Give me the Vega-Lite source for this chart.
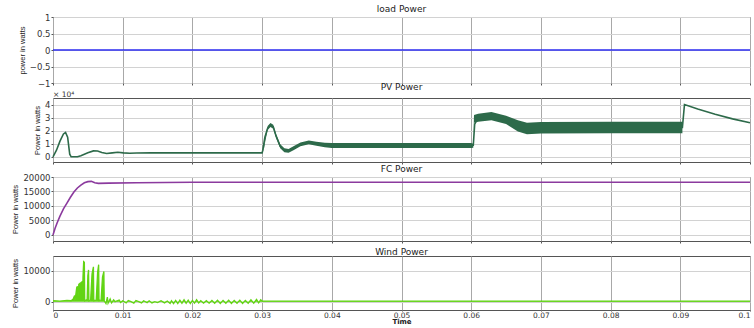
{
  "$schema": "https://vega.github.io/schema/vega-lite/v6.json",
  "padding": {"left": 11, "top": 4, "right": 0, "bottom": 0},
  "background": "white",
  "spacing": 15,
  "bounds": "flush",
  "config": {
    "view": {"stroke": "#555", "strokeWidth": 1},
    "axis": {"labelFont": "DejaVu Sans", "labelFontSize": 8.5, "labelColor": "#333", "labelOverlap": false, "titleFont": "Liberation Sans", "titleFontWeight": "normal", "titleFontSize": 7.5, "titleColor": "#222", "domain": false, "tickColor": "#555", "tickSize": 2, "labelPadding": 1, "titlePadding": 3, "gridColor": "#d2d2d2", "gridOpacity": 1},
    "axisX": {"gridColor": "#a8a8a8"},
    "title": {"fontSize": 9, "fontWeight": "normal", "font": "DejaVu Sans", "offset": -1, "color": "#222"}
  },
  "datasets": {
    "load": [{"t": 0, "p": 0}, {"t": 0.1, "p": 0}],
    "pv": [
      {"t": 0, "p": 0}, {"t": 0.0005, "p": 5000}, {"t": 0.001, "p": 12000}, {"t": 0.0015, "p": 17500}, {"t": 0.0018, "p": 18600}, {"t": 0.0021, "p": 15000}, {"t": 0.0024, "p": 2000}, {"t": 0.0026, "p": 0}, {"t": 0.0035, "p": 0}, {"t": 0.004, "p": 800}, {"t": 0.005, "p": 3000}, {"t": 0.0058, "p": 4500}, {"t": 0.0064, "p": 4400}, {"t": 0.007, "p": 3200}, {"t": 0.0077, "p": 2500}, {"t": 0.0085, "p": 3000}, {"t": 0.0093, "p": 3500}, {"t": 0.0101, "p": 3000}, {"t": 0.011, "p": 2700}, {"t": 0.012, "p": 2900}, {"t": 0.014, "p": 3000}, {"t": 0.02, "p": 3000}, {"t": 0.03, "p": 3000},
      {"t": 0.0301, "p": 5000}, {"t": 0.0304, "p": 15000}, {"t": 0.0308, "p": 22000}, {"t": 0.0312, "p": 24300}, {"t": 0.0316, "p": 23000}, {"t": 0.032, "p": 16000}, {"t": 0.0326, "p": 8000}, {"t": 0.0332, "p": 5000}, {"t": 0.0338, "p": 4500}, {"t": 0.0345, "p": 6500}, {"t": 0.0355, "p": 9500}, {"t": 0.0367, "p": 11000}, {"t": 0.0378, "p": 10000}, {"t": 0.039, "p": 9000}, {"t": 0.04, "p": 8700}, {"t": 0.05, "p": 8800}, {"t": 0.0603, "p": 8800},
      {"t": 0.0605, "p": 25000}, {"t": 0.061, "p": 30000}, {"t": 0.0629, "p": 31000}, {"t": 0.065, "p": 28000}, {"t": 0.0667, "p": 23600}, {"t": 0.068, "p": 21700}, {"t": 0.07, "p": 22200}, {"t": 0.08, "p": 22400}, {"t": 0.0903, "p": 22400},
      {"t": 0.0906, "p": 40000}, {"t": 0.0925, "p": 36500}, {"t": 0.095, "p": 32500}, {"t": 0.0975, "p": 29000}, {"t": 0.1, "p": 26000}
    ],
    "pvband": [
      {"t": 0.0302, "lo": 4000, "hi": 7000}, {"t": 0.0305, "lo": 13000, "hi": 17000}, {"t": 0.0308, "lo": 20500, "hi": 23500}, {"t": 0.0312, "lo": 22800, "hi": 25800}, {"t": 0.0316, "lo": 21500, "hi": 24500}, {"t": 0.032, "lo": 14500, "hi": 17500}, {"t": 0.0326, "lo": 6500, "hi": 9500}, {"t": 0.0332, "lo": 3500, "hi": 6500}, {"t": 0.0338, "lo": 3000, "hi": 6000}, {"t": 0.0345, "lo": 5000, "hi": 8000}, {"t": 0.0355, "lo": 8000, "hi": 11000}, {"t": 0.0367, "lo": 9500, "hi": 12500}, {"t": 0.0378, "lo": 8500, "hi": 11500}, {"t": 0.039, "lo": 7300, "hi": 10700}, {"t": 0.04, "lo": 6800, "hi": 10500}, {"t": 0.06, "lo": 6800, "hi": 10500}, {"t": 0.0603, "lo": 7000, "hi": 10000},
      {"t": 0.0604, "lo": 26000, "hi": 32000}, {"t": 0.061, "lo": 26800, "hi": 33000}, {"t": 0.0629, "lo": 28000, "hi": 34300}, {"t": 0.065, "lo": 25000, "hi": 31500}, {"t": 0.0667, "lo": 19300, "hi": 28000}, {"t": 0.068, "lo": 17300, "hi": 26000}, {"t": 0.07, "lo": 17800, "hi": 26600}, {"t": 0.08, "lo": 18000, "hi": 26800}, {"t": 0.0903, "lo": 18000, "hi": 26800}
    ],
    "fc": [
      {"t": 0, "p": 0}, {"t": 0.0003, "p": 2300}, {"t": 0.0006, "p": 4200}, {"t": 0.001, "p": 6500}, {"t": 0.0015, "p": 9000}, {"t": 0.002, "p": 11000}, {"t": 0.0025, "p": 13000}, {"t": 0.003, "p": 14800}, {"t": 0.0035, "p": 16200}, {"t": 0.004, "p": 17200}, {"t": 0.0045, "p": 18000}, {"t": 0.005, "p": 18400}, {"t": 0.0055, "p": 18500}, {"t": 0.006, "p": 18000}, {"t": 0.0065, "p": 17800}, {"t": 0.008, "p": 17900}, {"t": 0.012, "p": 18000}, {"t": 0.02, "p": 18200}, {"t": 0.1, "p": 18200}
    ],
    "wind": [
      {"t": 0, "p": 300}, {"t": 0.001, "p": 200}, {"t": 0.002, "p": 400}, {"t": 0.0026, "p": 300}, {"t": 0.0029, "p": 900}, {"t": 0.0031, "p": 2000}, {"t": 0.00315, "p": 300}, {"t": 0.0033, "p": 2800}, {"t": 0.0034, "p": 4500}, {"t": 0.0035, "p": 5000}, {"t": 0.00355, "p": 400}, {"t": 0.0037, "p": 5600}, {"t": 0.0039, "p": 6000}, {"t": 0.00395, "p": 400}, {"t": 0.0041, "p": 6200}, {"t": 0.0042, "p": 6600}, {"t": 0.00425, "p": 500}, {"t": 0.0043, "p": 8000}, {"t": 0.0044, "p": 13000}, {"t": 0.0045, "p": 12800}, {"t": 0.00455, "p": 300},
      {"t": 0.0048, "p": 600}, {"t": 0.0049, "p": 700}, {"t": 0.005, "p": 8500}, {"t": 0.0051, "p": 10300}, {"t": 0.00515, "p": 300}, {"t": 0.0054, "p": 500}, {"t": 0.0056, "p": 9000}, {"t": 0.0058, "p": 11300}, {"t": 0.00585, "p": 300}, {"t": 0.0062, "p": 500}, {"t": 0.0064, "p": 9500}, {"t": 0.00655, "p": 12000}, {"t": 0.0066, "p": 300}, {"t": 0.0069, "p": 500}, {"t": 0.0071, "p": 8000}, {"t": 0.0073, "p": 9800}, {"t": 0.00735, "p": 300},
      {"t": 0.0076, "p": -600}, {"t": 0.0078, "p": 1500}, {"t": 0.0079, "p": -500}, {"t": 0.0082, "p": 900}, {"t": 0.0084, "p": -400}, {"t": 0.0087, "p": 600}, {"t": 0.0089, "p": 0}, {"t": 0.0095, "p": 500}, {"t": 0.0097, "p": -300}, {"t": 0.01, "p": 300}, {"t": 0.0105, "p": -400}, {"t": 0.0108, "p": 400}, {"t": 0.0112, "p": 0}, {"t": 0.0116, "p": -500}, {"t": 0.0119, "p": 400}, {"t": 0.0123, "p": 0}, {"t": 0.0127, "p": -400}, {"t": 0.013, "p": 300}, {"t": 0.0135, "p": -300}, {"t": 0.0138, "p": 300}, {"t": 0.0142, "p": -400}, {"t": 0.0146, "p": 0}, {"t": 0.015, "p": -300}, {"t": 0.0155, "p": 300}, {"t": 0.016, "p": -400}, {"t": 0.0164, "p": 200}, {"t": 0.0168, "p": -600}, {"t": 0.017, "p": 300}, {"t": 0.0173, "p": -600}, {"t": 0.0176, "p": 400}, {"t": 0.0179, "p": -600}, {"t": 0.0182, "p": 500}, {"t": 0.0185, "p": -500}, {"t": 0.0188, "p": 600}, {"t": 0.0191, "p": -500}, {"t": 0.0194, "p": 500}, {"t": 0.0197, "p": -600}, {"t": 0.02, "p": 400}, {"t": 0.0203, "p": -500}, {"t": 0.0206, "p": 600}, {"t": 0.0209, "p": -400}, {"t": 0.0212, "p": 300}, {"t": 0.0216, "p": -500}, {"t": 0.022, "p": 300}, {"t": 0.0224, "p": -500}, {"t": 0.0228, "p": 400}, {"t": 0.0232, "p": -500}, {"t": 0.0236, "p": 500}, {"t": 0.024, "p": -600}, {"t": 0.0244, "p": 400}, {"t": 0.0248, "p": -500}, {"t": 0.0252, "p": 500}, {"t": 0.0256, "p": -600}, {"t": 0.026, "p": 400}, {"t": 0.0264, "p": -500}, {"t": 0.0268, "p": 500}, {"t": 0.0272, "p": -600}, {"t": 0.0276, "p": 400}, {"t": 0.028, "p": -500}, {"t": 0.0284, "p": 600}, {"t": 0.0288, "p": -500}, {"t": 0.0292, "p": 700}, {"t": 0.0295, "p": -400}, {"t": 0.0298, "p": 600}, {"t": 0.03, "p": 200}, {"t": 0.1, "p": 200}
    ]
  },
  "vconcat": [
    {
      "title": "load Power",
      "width": 697, "height": 66,
      "data": {"name": "load"},
      "mark": {"type": "line", "color": "#2b2bf0", "strokeWidth": 1.5},
      "encoding": {
        "x": {"field": "t", "type": "quantitative", "scale": {"domain": [0, 0.1], "nice": false, "zero": false}, "axis": {"values": [0, 0.01, 0.02, 0.03, 0.04, 0.05, 0.06, 0.07, 0.08, 0.09, 0.1], "labels": false, "title": null}},
        "y": {"field": "p", "type": "quantitative", "scale": {"domain": [-1, 1], "nice": false}, "axis": {"values": [-1, -0.5, 0, 0.5, 1], "title": "power in watts", "format": "~g"}}
      }
    },
    {
      "title": "PV Power",
      "width": 697, "height": 64,
      "layer": [
        {
          "data": {"name": "pv"},
          "mark": {"type": "line", "color": "#2d6a4a", "strokeWidth": 1.6},
          "encoding": {
            "x": {"field": "t", "type": "quantitative", "scale": {"domain": [0, 0.1], "nice": false, "zero": false}, "axis": {"values": [0, 0.01, 0.02, 0.03, 0.04, 0.05, 0.06, 0.07, 0.08, 0.09, 0.1], "labels": false, "title": null}},
            "y": {"field": "p", "type": "quantitative", "scale": {"domain": [-4000, 45000], "nice": false}, "axis": {"values": [0, 10000, 20000, 30000, 40000], "title": "Power in watts", "labelOverlap": false, "labelExpr": "format(datum.value / 10000, 'd')"}}
          }
        },
        {
          "data": {"name": "pvband"},
          "mark": {"type": "area", "color": "#2d6a4a", "opacity": 1},
          "encoding": {
            "x": {"field": "t", "type": "quantitative", "axis": {"values": [0, 0.01, 0.02, 0.03, 0.04, 0.05, 0.06, 0.07, 0.08, 0.09, 0.1], "labels": false, "title": null}},
            "y": {"field": "lo", "type": "quantitative", "axis": {"values": [0, 10000, 20000, 30000, 40000], "title": "Power in watts", "labelOverlap": false, "labelExpr": "format(datum.value / 10000, 'd')"}},
            "y2": {"field": "hi"}
          }
        },
        {
          "data": {"values": [{"label": "× 10⁴"}]},
          "mark": {"type": "text", "align": "left", "baseline": "bottom", "dy": 1, "dx": 0, "fontSize": 7.5, "font": "DejaVu Sans", "color": "#333"},
          "encoding": {
            "x": {"datum": 0, "type": "quantitative", "axis": {"values": [0, 0.01, 0.02, 0.03, 0.04, 0.05, 0.06, 0.07, 0.08, 0.09, 0.1], "labels": false, "title": null}},
            "y": {"datum": 45000, "type": "quantitative", "axis": {"values": [0, 10000, 20000, 30000, 40000], "title": "Power in watts", "labelOverlap": false, "labelExpr": "format(datum.value / 10000, 'd')"}},
            "text": {"field": "label"}
          }
        }
      ]
    },
    {
      "title": "FC Power",
      "width": 697, "height": 64,
      "data": {"name": "fc"},
      "mark": {"type": "line", "color": "#8b3a9e", "strokeWidth": 1.6},
      "encoding": {
        "x": {"field": "t", "type": "quantitative", "scale": {"domain": [0, 0.1], "nice": false, "zero": false}, "axis": {"values": [0, 0.01, 0.02, 0.03, 0.04, 0.05, 0.06, 0.07, 0.08, 0.09, 0.1], "labels": false, "title": null}},
        "y": {"field": "p", "type": "quantitative", "scale": {"domain": [-2100, 20000], "nice": false}, "axis": {"values": [0, 5000, 10000, 15000, 20000], "title": "Power in watts", "format": "d"}}
      }
    },
    {
      "title": "Wind  Power",
      "width": 697, "height": 54,
      "data": {"name": "wind"},
      "layer": [
        {
          "mark": {"type": "area", "color": "#62d414", "opacity": 1},
          "encoding": {
            "x": {"field": "t", "type": "quantitative", "scale": {"domain": [0, 0.1], "nice": false, "zero": false}, "axis": {"values": [0, 0.01, 0.02, 0.03, 0.04, 0.05, 0.06, 0.07, 0.08, 0.09, 0.1], "format": "~g", "labelFontSize": 7.5, "labelPadding": 0, "tickSize": 1, "title": "Time", "titleFont": "DejaVu Sans", "titleFontSize": 7, "titleFontWeight": "bold", "titlePadding": -1}},
            "y": {"field": "p", "type": "quantitative", "scale": {"domain": [-2700, 14800], "nice": false}, "axis": {"values": [0, 5000, 10000], "title": "Power in watts", "format": "d"}},
            "y2": {"datum": 0}
          }
        },
        {
          "mark": {"type": "line", "color": "#62d414", "strokeWidth": 1.3},
          "encoding": {
            "x": {"field": "t", "type": "quantitative"},
            "y": {"field": "p", "type": "quantitative"}
          }
        }
      ]
    }
  ]
}
